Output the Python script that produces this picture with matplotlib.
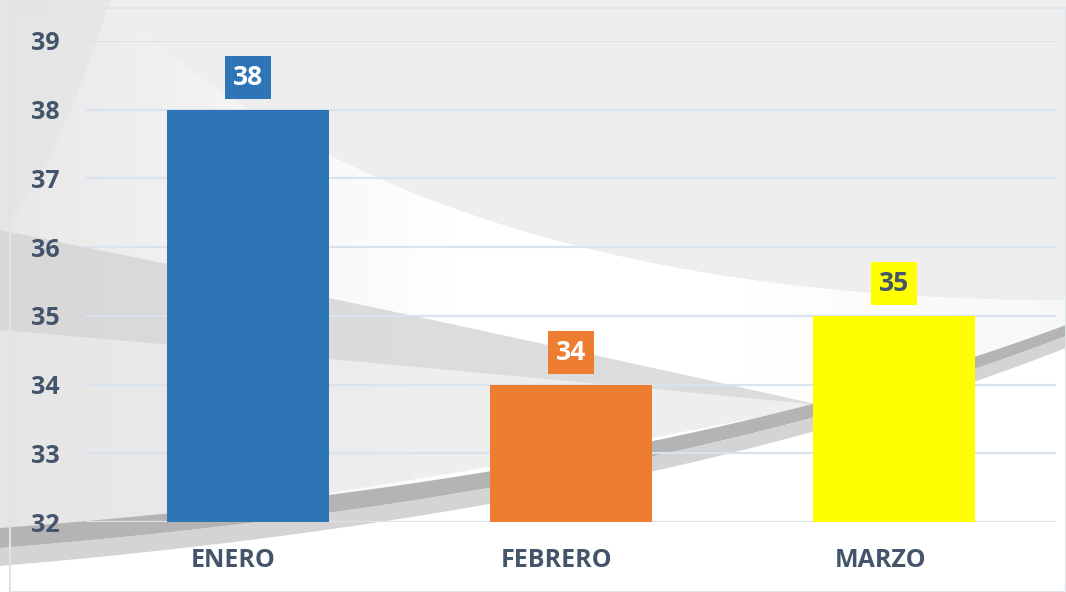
import numpy as np
import matplotlib.pyplot as plt
import matplotlib.transforms as mtransforms
from matplotlib.patches import Rectangle, Polygon

# Data
months = ['ENERO', 'FEBRERO', 'MARZO']
values = [38, 34, 35]
bar_colors = ['#2E75B6', '#ED7D31', '#FFFF00']
label_colors = ['white', 'white', '#44546A']
yticks = [32, 33, 34, 35, 36, 37, 38, 39]

plt.rcParams['font.family'] = ['Open Sans', 'DejaVu Sans']
text_color = '#44546A'

W, H = 1066, 592
fig = plt.figure(figsize=(W / 100, H / 100), dpi=100)
fig.patch.set_facecolor('white')


def bez(p0, p1, p2, n=200):
    t = np.linspace(0, 1, n)[:, None]
    p0, p1, p2 = map(np.array, (p0, p1, p2))
    return (1 - t) ** 2 * p0 + 2 * (1 - t) * t * p1 + t ** 2 * p2


# Decorative background (pixel coords)
bg = fig.add_axes([0, 0, 1, 1], zorder=-5)
bg.set_xlim(0, W)
bg.set_ylim(H, 0)
bg.axis('off')
grad = np.linspace(0.90, 0.94, 256)[None, :]
bg.imshow(np.dstack([grad, grad, grad]), extent=[0, W, H, 0], aspect='auto')

# white crescent with a left-to-right gradient
upper = bez((110, 0), (420, 300), (1066, 300))
lower = bez((1066, 340), (700, 500), (0, 535))
corner = bez((0, 235), (60, 160), (110, 0))
crescent = Polygon(np.vstack([upper, lower, corner]), closed=True, fc='none', ec='none')
bg.add_patch(crescent)
g = np.interp(np.linspace(0, W, 512), [0, 200, 450, 750, W], [0.91, 0.95, 1.0, 1.0, 0.97])[None, :]
im = bg.imshow(np.dstack([g, g, g]), extent=[0, W, H, 0], aspect='auto')
im.set_clip_path(crescent)
# lighter top-right area
bg.add_patch(Polygon(np.vstack([upper, [[1066, 0]]]), closed=True, fc='#eeeeee', ec='none'))
# grey shadow band on the left
band_top = bez((0, 230), (350, 300), (820, 405))
band_bot = bez((820, 405), (350, 360), (0, 330))
# light grey area below the band on the left
low_left = np.vstack([band_bot[::-1], bez((820, 405), (350, 500), (0, 535))])
bg.add_patch(Polygon(low_left, closed=True, fc='#e4e4e4', ec='none', alpha=0.6))
bg.add_patch(Polygon(np.vstack([band_top, band_bot]), closed=True, fc='#d4d4d4', ec='none', alpha=0.8))
# lower swoosh
sw_top = bez((0, 528), (650, 480), (1066, 325))
sw_mid = bez((1066, 336), (650, 496), (0, 548))
sw_bot = bez((1066, 348), (650, 512), (0, 566))
bg.add_patch(Polygon(np.vstack([sw_top, sw_mid]), closed=True, fc='#b4b4b4', ec='none'))
bg.add_patch(Polygon(np.vstack([sw_mid[::-1], sw_bot]), closed=True, fc='#d4d4d4', ec='none'))
bg.add_patch(Polygon(np.vstack([sw_bot[::-1], [[1066, H], [0, H]]]), closed=True, fc='white', ec='none'))
bg.add_patch(Rectangle((10, 8), W - 10, H - 8, fill=False, ec='#dde4ec', lw=1.5))

# Chart
ax = fig.add_axes([86 / W, 1 - 522 / H, 970 / W, 481 / H])
ax.patch.set_alpha(0)
x = np.arange(len(months))
ax.bar(x, values, width=0.5, color=bar_colors, zorder=3)
ax.set_xlim(-0.5, 2.5)
ax.set_ylim(32, 39)
ax.set_yticks(yticks)
ax.set_xticks(x)
ax.set_xticklabels(months)
ax.grid(axis='y', color='#dae3ed', lw=1.6, zorder=0)
for s in ax.spines.values():
    s.set_visible(False)
ax.tick_params(length=0, labelsize=18, labelcolor=text_color)
ax.tick_params(axis='y', pad=19)
ax.tick_params(axis='x', pad=19)
for lbl in ax.get_xticklabels() + ax.get_yticklabels():
    lbl.set_fontweight('bold')
# category labels sit slightly left of the bar centres in the original
shift = mtransforms.ScaledTranslation(-14 / 100, 0, fig.dpi_scale_trans)
for lbl in ax.get_xticklabels():
    lbl.set_transform(lbl.get_transform() + shift)

for xi, v, c, tc in zip(x, values, bar_colors, label_colors):
    ax.annotate(str(v), (xi, v), xytext=(0, 23), textcoords='offset points',
                ha='center', va='center', fontsize=19, fontweight='bold', color=tc,
                bbox=dict(boxstyle='square,pad=0.3', fc=c, ec='none'), zorder=4)

fig.savefig('out.png', dpi=100)
